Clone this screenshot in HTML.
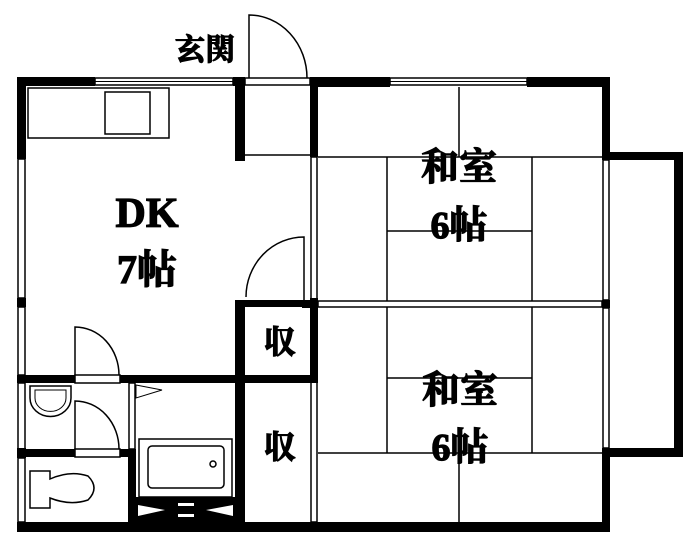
<!DOCTYPE html>
<html><head><meta charset="utf-8"><style>
html,body{margin:0;padding:0;background:#fff;}
svg{display:block;}
text{font-family:"Liberation Serif","Noto Serif CJK SC",serif;font-weight:bold;fill:#000;stroke:#000;stroke-width:1.2;}
</style></head><body>
<svg width="700" height="545" viewBox="0 0 700 545" xmlns="http://www.w3.org/2000/svg">
<rect width="700" height="545" fill="#fff"/>
<g fill="#000">
<rect x="17" y="77" width="78" height="9"/>
<rect x="233" y="77" width="12" height="9"/>
<rect x="310" y="77" width="80" height="10"/>
<rect x="527" y="77" width="83" height="10"/>
<rect x="17" y="77" width="9" height="82"/>
<rect x="17" y="298" width="9" height="9"/>
<rect x="17" y="375" width="9" height="8"/>
<rect x="17" y="448" width="9" height="10"/>
<rect x="235" y="77" width="10" height="84"/>
<rect x="310" y="77" width="8" height="80"/>
<rect x="602" y="77" width="8" height="82"/>
<rect x="602" y="448" width="8" height="84"/>
<rect x="602" y="152" width="81" height="8"/>
<rect x="674" y="152" width="9" height="305"/>
<rect x="602" y="448" width="81" height="9"/>
<rect x="17" y="522" width="593" height="10"/>
<rect x="235" y="300" width="10" height="222"/>
<rect x="235" y="300" width="83" height="7"/>
<rect x="310" y="298" width="8" height="84"/>
<rect x="17" y="375" width="58" height="8"/>
<rect x="120" y="375" width="198" height="8"/>
<rect x="17" y="449" width="58" height="8"/>
<rect x="120" y="449" width="16" height="8"/>
<rect x="128" y="449" width="8" height="73"/>
<rect x="302" y="300" width="8" height="8"/>
<rect x="602" y="300" width="8" height="8"/>
<rect x="136" y="497" width="99" height="25"/>
</g>
<g fill="#fff">
<polygon points="138,505 138,516 165,510"/>
<polygon points="233,505 233,516 206,510"/>
<rect x="178" y="503" width="16" height="3"/>
<rect x="178" y="514" width="16" height="3"/>
</g>
<g fill="none" stroke="#000" stroke-width="1.5">
<rect x="95" y="78" width="138" height="7"/>
<line x1="95" y1="81.5" x2="233" y2="81.5" stroke-width="1"/>
<rect x="245" y="78" width="65" height="7"/>
<rect x="390" y="78" width="137" height="7"/>
<line x1="390" y1="81.5" x2="527" y2="81.5" stroke-width="1"/>
<rect x="18" y="159" width="7" height="139"/>
<rect x="18" y="307" width="7" height="68"/>
<rect x="18" y="383" width="7" height="66"/>
<rect x="18" y="458" width="7" height="64"/>
<rect x="311" y="157" width="6" height="143"/>
<rect x="311" y="382" width="6" height="140"/>
<rect x="603" y="160" width="6" height="140"/>
<rect x="603" y="308" width="6" height="140"/>
<rect x="318" y="301" width="284" height="6"/>
<rect x="129" y="383" width="6" height="66"/>
<rect x="75" y="375" width="45" height="8"/>
<rect x="75" y="449" width="45" height="8"/>
<line x1="245" y1="155" x2="318" y2="155"/>
<path d="M249,78 L249,15 A58,63 0 0 1 307,78"/>
<rect x="28" y="88" width="141" height="50"/>
<rect x="105" y="92" width="45" height="42"/>
<path d="M304,300 L304,237 A58,60 0 0 0 246,297"/>
<path d="M75,375 L75,327 A44,48 0 0 1 119,375"/>
<path d="M75,449 L75,401 A44,48 0 0 1 119,449"/>
<path d="M30,386 L71,386 L71,398 A20,18 0 0 1 30,398 Z"/>
<path d="M35,390 L66,390 L66,398 A15,13 0 0 1 35,398 Z" stroke-width="1"/>
<rect x="139" y="439" width="93" height="58"/>
<rect x="148" y="446" width="76" height="42" rx="4"/>
<circle cx="213" cy="464" r="3"/>
<polygon points="136,385 162,390 136,398" stroke-width="1"/>
<path d="M30,471 L50,471 L50,479 Q70,470 88,476 Q100,488 88,500 Q70,506 50,498 L50,508 L30,508 Z"/>
<line x1="318" y1="157" x2="602" y2="157"/>
<line x1="459" y1="87" x2="459" y2="157"/>
<line x1="387" y1="157" x2="387" y2="301"/>
<line x1="532" y1="157" x2="532" y2="301"/>
<line x1="387" y1="231" x2="532" y2="231"/>
<line x1="387" y1="307" x2="387" y2="453"/>
<line x1="532" y1="307" x2="532" y2="453"/>
<line x1="387" y1="378" x2="532" y2="378"/>
<line x1="318" y1="453" x2="602" y2="453"/>
<line x1="459" y1="453" x2="459" y2="522"/>
</g>
<text x="205" y="60" font-size="30" text-anchor="middle">玄関</text>
<text x="147" y="227" font-size="42" text-anchor="middle">DK</text>
<text x="147" y="283" font-size="40" text-anchor="middle">7帖</text>
<text x="459" y="180" font-size="38" text-anchor="middle">和室</text>
<text x="459" y="238" font-size="38" text-anchor="middle">6帖</text>
<text x="460" y="403" font-size="38" text-anchor="middle">和室</text>
<text x="460" y="460" font-size="38" text-anchor="middle">6帖</text>
<text x="280" y="353" font-size="32" text-anchor="middle">収</text>
<text x="280" y="458" font-size="32" text-anchor="middle">収</text>
</svg>
</body></html>
